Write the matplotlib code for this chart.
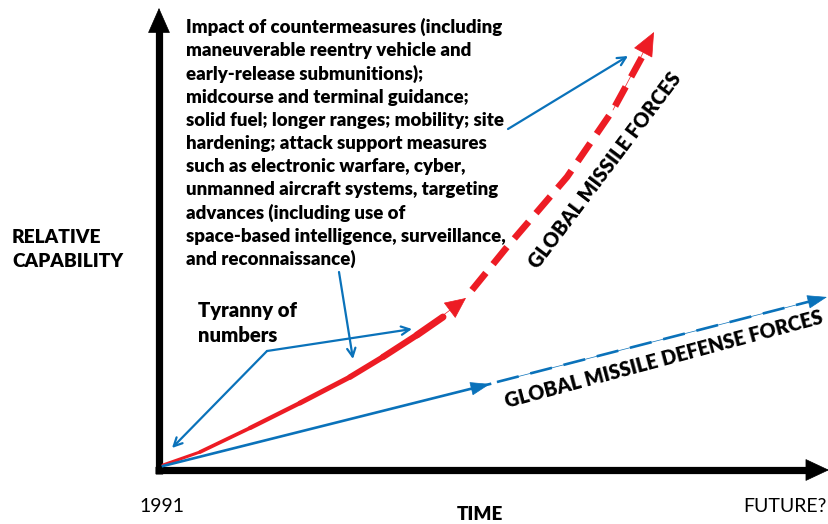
import matplotlib
matplotlib.use("Agg")
import matplotlib.pyplot as plt
from matplotlib.collections import LineCollection
import numpy as np

plt.rcParams['font.family'] = ['Lato', 'DejaVu Sans']

# ---- data (time units, capability units; origin at the axes corner) ----
missile_time = [0, 37, 87, 137, 187, 220, 254, 280, 303]
missile_cap = [1, 14, 38, 63, 89, 109, 131, 149, 168]
missile_future_time = [309, 344, 404, 450, 491]
missile_future_cap = [176, 219, 289, 356, 434]
defense_time = [0, 327]
defense_cap = [0, 82]
defense_future_time = [334, 664]
defense_future_cap = [84, 169]

countermeasure_lines = [
    "Impact of countermeasures (including",
    "maneuverable reentry vehicle and",
    "early-release submunitions);",
    "midcourse and terminal guidance;",
    "solid fuel; longer ranges; mobility; site",
    "hardening; attack support measures",
    "such as electronic warfare, cyber,",
    "unmanned aircraft systems, targeting",
    "advances (including use of",
    "space-based intelligence, surveillance,",
    "and reconnaissance)",
]
x_start_label = "1991"
x_end_label = "FUTURE?"
x_title = "TIME"
y_title = "RELATIVE\nCAPABILITY"

RED = "#ED1C24"
BLUE = "#0A72BA"
W = 800

fig = plt.figure(figsize=(8.29, 5.24), dpi=100)
ax = fig.add_axes([0, 0, 1, 1])
ax.set_xlim(-163, 666)
ax.set_ylim(-58, 466)
ax.axis('off')


def head(tip, frm, color, L, Wd, lw=0.5, style='-|>'):
    ax.annotate('', xy=tip, xytext=frm,
                arrowprops=dict(arrowstyle=f'{style},head_length={L},head_width={Wd}',
                                color=color, lw=lw, shrinkA=0, shrinkB=0,
                                mutation_scale=1))


# ---- axes (thick black arrows) ----
ax.plot([-4, -4], [-8, 440], color='black', lw=5.2, solid_capstyle='butt')
head((-4, 458), (-4, 420), 'black', 17, 7.5)
ax.plot([-8, 645], [-4, -4], color='black', lw=5.2, solid_capstyle='butt')
head((666, -4), (630, -4), 'black', 16, 7.5)

# ---- missile forces (red) ----
pts = np.column_stack([missile_time[:-1], missile_cap[:-1]])
segs = np.stack([pts[:-1], pts[1:]], axis=1)
widths = np.linspace(2.2, 5.0, len(segs))
lc = LineCollection(segs, colors=RED, linewidths=widths, capstyle='round')
ax.add_collection(lc)
head((missile_time[-1], missile_cap[-1]), (missile_time[-3], missile_cap[-3]),
     RED, 14, 6.5)

ax.plot(missile_future_time[:-1] + [missile_future_time[-1] - 6],
        missile_future_cap[:-1] + [missile_future_cap[-1] - 14],
        color=RED, lw=4.8, dashes=(3.3, 1.7))
head((missile_future_time[-1], missile_future_cap[-1]),
     (missile_future_time[-2], missile_future_cap[-2]), RED, 16, 7)

# ---- missile defense forces (blue) ----
ax.plot(defense_time, defense_cap, color=BLUE, lw=1.9)
head((defense_time[-1], defense_cap[-1]), (defense_time[0], defense_cap[0]),
     BLUE, 13, 4.5)
ax.plot(defense_future_time, defense_future_cap, color=BLUE, lw=1.9,
        dashes=(8.5, 4.5))
head((defense_future_time[-1], defense_future_cap[-1]),
     (defense_future_time[0], defense_future_cap[0]), BLUE, 13, 4.5)

# ---- annotation pointers ----
def pointer(tip, frm):
    ax.annotate('', xy=tip, xytext=frm,
                arrowprops=dict(arrowstyle='->,head_length=6,head_width=3',
                                color=BLUE, lw=1.6, shrinkA=0, shrinkB=0,
                                mutation_scale=1))

pointer((465, 410), (345, 337))
pointer((190, 107), (176, 194))
pointer((249, 137), (104, 115))
pointer((9, 18), (104, 115))

# ---- texts ----
for i, line in enumerate(countermeasure_lines):
    ax.text(23, 433 - 23.2 * i, line, fontsize=13.4, fontweight=W,
            ha='left', va='baseline', color='black')

ax.text(-151, 223, "RELATIVE", fontsize=13.8, fontweight=W,
        ha='left', va='baseline')
ax.text(-151, 199, "CAPABILITY", fontsize=13.8, fontweight=W,
        ha='left', va='baseline')

ax.text(35, 149, "Tyranny of", fontsize=14.6, fontweight=W,
        ha='left', va='baseline')
ax.text(35, 124, "numbers", fontsize=14.6, fontweight=W,
        ha='left', va='baseline')

ax.text(-1.5, -46, x_start_label, fontsize=14, ha='center', va='baseline')
ax.text(317, -54, x_title, fontsize=13.5, fontweight=W,
        ha='center', va='baseline')
ax.text(664, -46, x_end_label, fontsize=14, ha='right', va='baseline')

ax.text(442, 296, "GLOBAL MISSILE FORCES", fontsize=14.3, fontweight=W,
        rotation=53, rotation_mode='anchor', ha='center', va='center')
ax.text(501, 107, "GLOBAL MISSILE DEFENSE FORCES", fontsize=14.2,
        fontweight=W, rotation=15, rotation_mode='anchor',
        ha='center', va='center')

fig.savefig("out.png", dpi=100)
